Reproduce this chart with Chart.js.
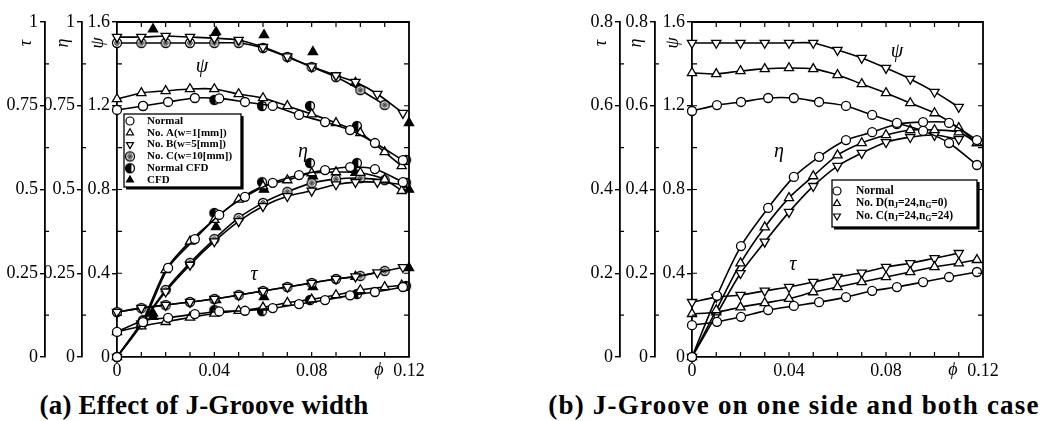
<!DOCTYPE html>
<html>
<head>
<meta charset="utf-8">
<script src="https://cdn.jsdelivr.net/npm/chart.js@4.4.1/dist/chart.umd.min.js"></script>
<style>
  html, body { margin: 0; padding: 0; background: #fff; }
  body { width: 1048px; height: 421px; position: relative; overflow: hidden; font-family: 'Liberation Serif', serif; }
  canvas { position: absolute; top: 0; }
  #chartA { left: 0; }
  #chartB { left: 520px; }
  .caption { position: absolute; top: 390px; line-height: 30px; font-weight: bold; font-size: 27px; white-space: nowrap; transform: translateX(-50%); }
</style>
</head>
<body>
<canvas id="chartA" width="520" height="385"></canvas>
<canvas id="chartB" width="528" height="385"></canvas>
<div class="caption" style="left:204px; letter-spacing:0.2px">(a) Effect of J-Groove width</div>
<div class="caption" style="left:794px; letter-spacing:1.2px">(b) J-Groove on one side and both case</div>

<script>
// ---- (a) Effect of J-Groove width ----
const phiNormalA = [0, 0.0107, 0.021, 0.032, 0.042, 0.0526, 0.064, 0.0748, 0.0855, 0.0958, 0.106, 0.1175];
const psiNormalA = [1.18, 1.199, 1.218, 1.237, 1.235, 1.218, 1.199, 1.156, 1.122, 1.084, 1.022, 0.94];
const etaNormalA = [0, 0.104, 0.266, 0.352, 0.424, 0.478, 0.52, 0.543, 0.558, 0.567, 0.561, 0.522];
const tauNormalA = [0.075, 0.108, 0.117, 0.128, 0.136, 0.138, 0.146, 0.158, 0.17, 0.184, 0.194, 0.209];

const phiA = [0, 0.01, 0.02, 0.03, 0.04, 0.05, 0.06, 0.07, 0.08, 0.09, 0.1, 0.11, 0.117];
const psiA = [1.232, 1.261, 1.271, 1.28, 1.28, 1.256, 1.237, 1.199, 1.16, 1.118, 1.07, 0.979, 0.912];
const etaA = [0, 0.1, 0.26, 0.345, 0.41, 0.47, 0.51, 0.528, 0.549, 0.552, 0.55, 0.53, 0.496];
const tauA = [0.075, 0.092, 0.105, 0.118, 0.13, 0.138, 0.148, 0.162, 0.172, 0.185, 0.2, 0.209, 0.214];

const phiB = [0, 0.01, 0.02, 0.03, 0.04, 0.05, 0.06, 0.07, 0.08, 0.09, 0.098, 0.107, 0.1175];
const psiB = [1.528, 1.528, 1.533, 1.528, 1.523, 1.514, 1.48, 1.435, 1.387, 1.345, 1.313, 1.256, 1.165];
const etaB = [0, 0.1, 0.195, 0.275, 0.345, 0.405, 0.45, 0.48, 0.496, 0.515, 0.522, 0.522, 0.515];
const tauB = [0.134, 0.146, 0.155, 0.164, 0.173, 0.185, 0.197, 0.209, 0.221, 0.233, 0.24, 0.252, 0.268];

const phiC = [0, 0.01, 0.02, 0.03, 0.04, 0.05, 0.06, 0.07, 0.08, 0.09, 0.1, 0.11];
const psiC = [1.5, 1.5, 1.5, 1.5, 1.5, 1.5, 1.476, 1.433, 1.385, 1.337, 1.275, 1.204];
const etaC = [0, 0.1, 0.2, 0.281, 0.352, 0.415, 0.46, 0.493, 0.519, 0.531, 0.534, 0.528];
const tauC = [0.134, 0.146, 0.155, 0.164, 0.173, 0.185, 0.197, 0.209, 0.221, 0.233, 0.242, 0.257];

const phiNormalCfd = [0.0107, 0.04, 0.0596, 0.0793, 0.0986, 0.1188];
const psiNormalCfd = [1.199, 1.228, 1.199, 1.199, 1.103, 0.941];
const etaNormalCfd = [0.11, 0.43, 0.522, 0.579, 0.579, 0.52];
const tauNormalCfd = [0.104, 0.14, 0.137, 0.17, 0.188, 0.212];

const phiCfd = [0.0148, 0.0407, 0.0604, 0.0805, 0.098, 0.12];
const psiCfd = [1.566, 1.552, 1.538, 1.457, 1.31, 1.118];
const etaCfd = [0.12, 0.388, 0.5, 0.54, 0.55, 0.5];
const tauCfd = [0.13, 0.17, 0.179, 0.209, 0.24, 0.266];

// ---- (b) J-Groove on one side and both case ----
const phiNormalB = [0, 0.0103, 0.0202, 0.0314, 0.042, 0.0524, 0.0635, 0.0743, 0.0845, 0.0953, 0.106, 0.1175];
const psiNormalB = [1.175, 1.203, 1.218, 1.237, 1.237, 1.218, 1.199, 1.156, 1.118, 1.08, 1.022, 0.917];
const etaNormalB = [0, 0.146, 0.265, 0.356, 0.43, 0.478, 0.518, 0.537, 0.556, 0.561, 0.559, 0.518];
const tauNormalB = [0.076, 0.084, 0.096, 0.112, 0.122, 0.131, 0.143, 0.158, 0.167, 0.179, 0.191, 0.203];

const phiD = [0, 0.01, 0.02, 0.03, 0.04, 0.05, 0.06, 0.07, 0.08, 0.09, 0.1, 0.11, 0.1175];
const psiD = [1.357, 1.352, 1.366, 1.376, 1.38, 1.376, 1.347, 1.304, 1.261, 1.213, 1.165, 1.094, 1.022];
const etaD = [0, 0.112, 0.224, 0.31, 0.38, 0.432, 0.482, 0.511, 0.53, 0.542, 0.542, 0.537, 0.511];
const tauD = [0.103, 0.107, 0.119, 0.129, 0.139, 0.155, 0.167, 0.179, 0.191, 0.203, 0.215, 0.224, 0.232];

const phiCB = [0, 0.01, 0.02, 0.03, 0.04, 0.05, 0.06, 0.07, 0.08, 0.09, 0.1, 0.11];
const psiCB = [1.5, 1.5, 1.5, 1.5, 1.5, 1.5, 1.466, 1.428, 1.38, 1.328, 1.266, 1.194];
const etaCB = [0, 0.1, 0.2, 0.275, 0.346, 0.408, 0.456, 0.487, 0.513, 0.525, 0.53, 0.52];
const tauCB = [0.131, 0.143, 0.148, 0.158, 0.167, 0.179, 0.191, 0.201, 0.215, 0.224, 0.236, 0.248];

// tick labels
const phiTicks = [0, 0.04, 0.08, 0.12];
const psiTicks = [0, 0.4, 0.8, 1.2, 1.6];
const tauTicksA = [0, 0.25, 0.5, 0.75, 1];
const tauTicksB = [0, 0.2, 0.4, 0.6, 0.8];

const namesA = ['Normal', 'No. A(w=1[mm])', 'No. B(w=5[mm])', 'No. C(w=10[mm])', 'Normal CFD', 'CFD'];
const namesB = ['Normal', 'No. D(n_J=24,n_G=0)', 'No. C(n_J=24,n_G=24)'];

const SERIF = '"Liberation Serif", "Times New Roman", serif';

// marker images for the two special symbols
function makeMarker(kind) {
    const c = document.createElement('canvas');
    c.width = 12; c.height = 12;
    const g = c.getContext('2d');
    g.strokeStyle = '#000';
    g.lineWidth = 1.3;
    g.fillStyle = '#fff';
    g.beginPath(); g.arc(6, 6, 4.5, 0, Math.PI * 2); g.fill(); g.stroke();
    if (kind === 'dot') {
        g.lineWidth = 1;
        g.beginPath(); g.arc(6, 6, 2.2, 0, Math.PI * 2); g.stroke();
        g.fillStyle = '#000';
        g.beginPath(); g.arc(6, 6, 1, 0, Math.PI * 2); g.fill();
    } else if (kind === 'half') {
        g.fillStyle = '#000';
        g.beginPath(); g.arc(6, 6, 4.5, Math.PI * 0.4, Math.PI * 1.6); g.closePath(); g.fill();
    }
    return c;
}

const MARKS = {
    circle:    { style: 'circle', radius: 4.5, fill: '#fff' },
    triUp:     { style: 'triangle', radius: 5.3, fill: '#fff' },
    triDown:   { style: 'triangle', rotation: 180, radius: 5.3, fill: '#fff' },
    dotCircle: { style: makeMarker('dot'), radius: 4.5, fill: '#fff' },
    halfCirc:  { style: makeMarker('half'), radius: 4.5, fill: '#fff' },
    triFilled: { style: 'triangle', radius: 5.3, fill: '#000' }
};

function curve(label, phi, vals, axis, mark, showLine, inLegend) {
    return {
        label: label,
        legendEntry: inLegend,
        yAxisID: axis,
        data: phi.map((p, i) => ({ x: p, y: vals[i] })),
        showLine: showLine,
        borderColor: '#000',
        borderWidth: 1.6,
        tension: 0.25,
        fill: false,
        clip: false,
        pointStyle: mark.style,
        pointRotation: mark.rotation || 0,
        pointRadius: mark.radius,
        pointBackgroundColor: mark.fill,
        pointBorderColor: '#000',
        pointBorderWidth: 1.3
    };
}

function series(label, mark, phi, psi, eta, tau, showLine = true) {
    return [
        curve(label, phi, psi, 'psi', mark, showLine, true),
        curve(label, phi, eta, 'eta', mark, showLine, false),
        curve(label, phi, tau, 'tau', mark, showLine, false)
    ];
}

const fmt = v => String(+(+v).toFixed(3));

// legend text with "_X" subscripts
function drawRich(ctx, text, x, y, size) {
    const parts = text.split(/_(.)/);
    ctx.textAlign = 'left';
    ctx.textBaseline = 'middle';
    parts.forEach((p, i) => {
        const sub = i % 2 === 1;
        ctx.font = 'bold ' + (sub ? size * 0.65 : size) + 'px ' + SERIF;
        ctx.fillText(p, x, y + (sub ? 3 : 0));
        x += ctx.measureText(p).width;
    });
}

// frame, inward ticks, axis symbols, curve notes and boxed legend
function makeDecor(spec) {
    return {
        id: 'decor',
        afterDraw(chart) {
            const { ctx, chartArea: a, scales } = chart;
            const xs = scales.x, ps = scales.psi;
            ctx.save();
            ctx.strokeStyle = '#000';
            ctx.fillStyle = '#000';

            ctx.lineWidth = 1.8;
            ctx.beginPath();
            ctx.moveTo(a.left, a.top);
            ctx.lineTo(a.right, a.top);
            ctx.lineTo(a.right, a.bottom);
            ctx.stroke();

            ctx.lineWidth = 1.2;
            ctx.beginPath();
            for (let i = 1; i < 12; i++) {
                const px = xs.getPixelForValue(i * 0.01);
                ctx.moveTo(px, a.bottom); ctx.lineTo(px, a.bottom - 5);
                ctx.moveTo(px, a.top); ctx.lineTo(px, a.top + 5);
            }
            for (let k = 1; k < 8; k++) {
                const py = ps.getPixelForValue(k * 0.2);
                ctx.moveTo(a.right, py); ctx.lineTo(a.right - 5, py);
                ctx.moveTo(a.left, py); ctx.lineTo(a.left + 5, py);
            }
            ['tau', 'eta'].forEach(id => {
                const s = scales[id];
                for (let k = 1; k < 8; k += 2) {
                    const py = s.getPixelForValue(k * spec.minor);
                    ctx.moveTo(s.right, py); ctx.lineTo(s.right + 4, py);
                }
            });
            ctx.stroke();

            ctx.textAlign = 'center';
            ctx.textBaseline = 'middle';
            ctx.font = 'italic 18px ' + SERIF;
            [['tau', 'τ'], ['eta', 'η'], ['psi', 'ψ']].forEach(([id, sym]) => {
                const s = scales[id];
                ctx.save();
                ctx.translate(s.right - 19, a.top + 21);
                ctx.rotate(-Math.PI / 2);
                ctx.fillText(sym, 0, 0);
                ctx.restore();
            });
            ctx.fillText('ϕ', xs.getPixelForValue(0.12) - 30, a.bottom + 13);

            ctx.font = 'italic 20px ' + SERIF;
            spec.notes.forEach(n => {
                ctx.fillText(n.text, xs.getPixelForValue(n.phi), ps.getPixelForValue(n.psi));
            });

            const L = spec.legend;
            const bx = a.left + L.x, by = a.top + L.y;
            ctx.fillStyle = '#fff';
            ctx.fillRect(bx, by, L.w, L.h);
            ctx.lineWidth = 1.3;
            ctx.strokeRect(bx, by, L.w, L.h);
            ctx.lineWidth = 2.6;
            ctx.beginPath();
            ctx.moveTo(bx + 2, by + L.h + 1.3);
            ctx.lineTo(bx + L.w + 1.3, by + L.h + 1.3);
            ctx.lineTo(bx + L.w + 1.3, by + 2);
            ctx.stroke();
            chart.data.datasets.filter(d => d.legendEntry).forEach((d, i) => {
                const cy = by + L.first + i * L.row;
                ctx.fillStyle = d.pointBackgroundColor;
                ctx.strokeStyle = '#000';
                ctx.lineWidth = 1.2;
                Chart.helpers.drawPoint(ctx, {
                    pointStyle: d.pointStyle, rotation: d.pointRotation, radius: 4, borderWidth: 1.2
                }, bx + L.mark, cy);
                ctx.fillStyle = '#000';
                drawRich(ctx, d.label, bx + L.text, cy, L.size);
            });
            ctx.restore();
        }
    };
}

function yAxis(weight, max, ticks, width) {
    const step = ticks[1] - ticks[0];
    return {
        type: 'linear',
        axis: 'y',
        position: 'left',
        weight: weight,
        min: 0,
        max: max,
        afterFit: s => { s.width = width; },
        afterBuildTicks: s => { s.ticks = ticks.map(v => ({ value: v })); },
        grid: { drawOnChartArea: false, drawTicks: true, tickLength: 5, color: '#000', lineWidth: 1.4 },
        border: { display: true, color: '#000', width: 1.8 },
        ticks: { stepSize: step, color: '#000', padding: 2, font: { family: SERIF, size: 18 }, callback: fmt }
    };
}

function buildPanel(canvasId, p) {
    return new Chart(document.getElementById(canvasId), {
        type: 'line',
        data: { datasets: p.datasets },
        options: {
            responsive: false,
            animation: false,
            events: [],
            layout: { padding: p.padding },
            plugins: { legend: { display: false }, tooltip: { enabled: false } },
            scales: {
                x: {
                    type: 'linear',
                    position: 'bottom',
                    min: 0,
                    max: 0.12,
                    afterFit: s => { s.height = 26; },
                    afterBuildTicks: s => { s.ticks = phiTicks.map(v => ({ value: v })); },
                    grid: { display: false, drawTicks: false },
                    border: { display: true, color: '#000', width: 1.8 },
                    ticks: { color: '#000', padding: 3, maxRotation: 0, autoSkip: false, font: { family: SERIF, size: 18 }, callback: fmt }
                },
                psi: yAxis(0, 1.6, psiTicks, p.widths[2]),
                eta: yAxis(1, p.etaMax, p.tauTicks, p.widths[1]),
                tau: yAxis(2, p.etaMax, p.tauTicks, p.widths[0])
            }
        },
        plugins: [makeDecor(p.decor)]
    });
}

const datasetsA = [].concat(
    series(namesA[0], MARKS.circle, phiNormalA, psiNormalA, etaNormalA, tauNormalA),
    series(namesA[1], MARKS.triUp, phiA, psiA, etaA, tauA),
    series(namesA[2], MARKS.triDown, phiB, psiB, etaB, tauB),
    series(namesA[3], MARKS.dotCircle, phiC, psiC, etaC, tauC),
    series(namesA[4], MARKS.halfCirc, phiNormalCfd, psiNormalCfd, etaNormalCfd, tauNormalCfd, false),
    series(namesA[5], MARKS.triFilled, phiCfd, psiCfd, etaCfd, tauCfd, false)
);

const datasetsB = [].concat(
    series(namesB[0], MARKS.circle, phiNormalB, psiNormalB, etaNormalB, tauNormalB),
    series(namesB[1], MARKS.triUp, phiD, psiD, etaD, tauD),
    series(namesB[2], MARKS.triDown, phiCB, psiCB, etaCB, tauCB)
);

buildPanel('chartA', {
    datasets: datasetsA,
    padding: { left: 5, right: 111, top: 22, bottom: 2 },
    widths: [40, 37, 35],
    etaMax: 1,
    tauTicks: tauTicksA,
    decor: {
        minor: 0.125,
        notes: [
            { text: 'ψ', phi: 0.0349, psi: 1.385 },
            { text: 'η', phi: 0.0764, psi: 0.979 },
            { text: 'τ', phi: 0.0563, psi: 0.392 }
        ],
        legend: { x: 7, y: 92, w: 117, h: 73, mark: 6, text: 23, first: 7, row: 11.8, size: 11 }
    }
});

buildPanel('chartB', {
    datasets: datasetsB,
    padding: { left: 60, right: 65, top: 22, bottom: 2 },
    widths: [40, 35, 37],
    etaMax: 0.8,
    tauTicks: tauTicksB,
    decor: {
        minor: 0.1,
        notes: [
            { text: 'ψ', phi: 0.0845, psi: 1.457 },
            { text: 'η', phi: 0.0359, psi: 0.979 },
            { text: 'τ', phi: 0.0416, psi: 0.439 }
        ],
        legend: { x: 140, y: 158, w: 145, h: 47, mark: 5, text: 24, first: 11, row: 12.5, size: 11.5 }
    }
});
</script>
</body>
</html>
